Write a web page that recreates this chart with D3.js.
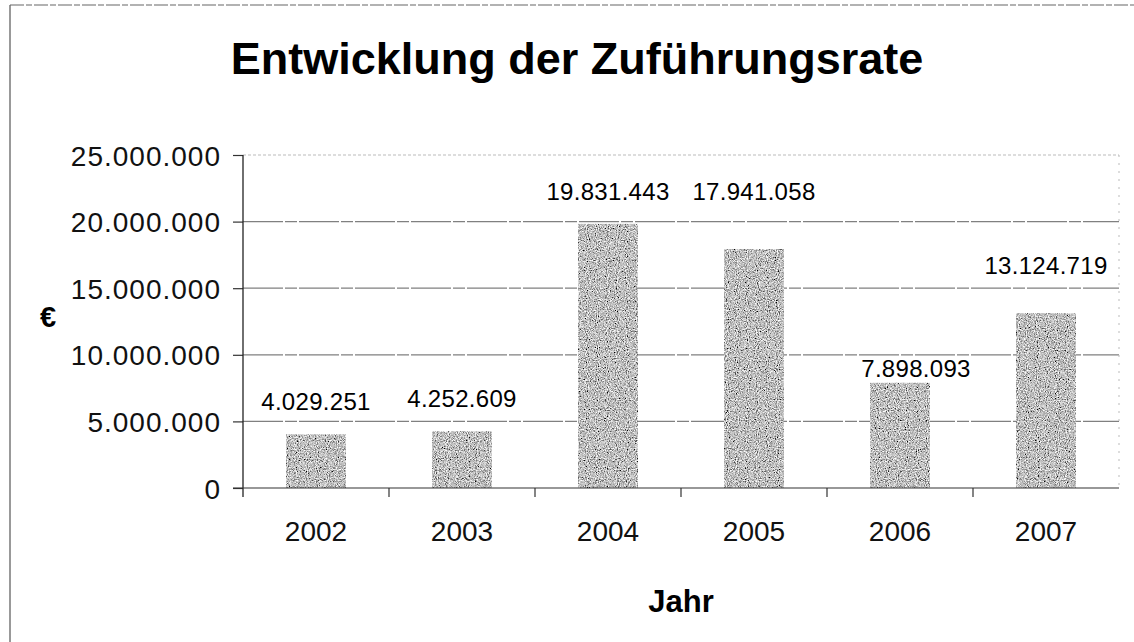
<!DOCTYPE html>
<html>
<head>
<meta charset="utf-8">
<script src="https://cdn.jsdelivr.net/npm/d3@7"></script>
<style>
  body { margin: 0; background: #fff; }
  svg { font-family: "Liberation Sans", Arial, sans-serif; }
</style>
</head>
<body>
<svg id="chart"></svg>
<script>
// data
var years = ["2002", "2003", "2004", "2005", "2006", "2007"];
var values = [4029251, 4252609, 19831443, 17941058, 7898093, 13124719];
var yTicks = [0, 5000000, 10000000, 15000000, 20000000, 25000000];

// label placement as in the original (px above the bar, px sideways)
var labelGap = [24, 24, 24, 49, 6, 39];
var labelShift = [0, 0, 0, 0, 16, 0];

var W = 1134, H = 642,
	margin = {top: 155, right: 15, bottom: 154, left: 243},
	width = 1119 - margin.left,
	height = 488 - margin.top;

var fmt = function(v) { return d3.format(",")(v).replace(/,/g, "."); };

var svg = d3.select("#chart").attr("width", W).attr("height", H);

var defs = svg.append("defs");
var f = defs.append("filter").attr("id", "grain")
	.attr("x", 0).attr("y", 0).attr("width", 1).attr("height", 1);
f.append("feTurbulence").attr("type", "fractalNoise")
	.attr("baseFrequency", 0.9).attr("numOctaves", 2).attr("seed", 3).attr("result", "n");
f.append("feColorMatrix").attr("in", "n").attr("type", "matrix")
	.attr("values", "1.8 0 0 0 -0.38  1.8 0 0 0 -0.38  1.8 0 0 0 -0.38  0 0 0 0 1")
	.attr("result", "g");
f.append("feComposite").attr("in", "g").attr("in2", "SourceGraphic").attr("operator", "in");

// outer frame (left and top only visible)
svg.append("line").attr("x1", 10).attr("x2", 10).attr("y1", 5).attr("y2", H)
	.attr("stroke", "#555").attr("stroke-width", 1.2);
svg.append("line").attr("x1", 10).attr("x2", W).attr("y1", 5).attr("y2", 5)
	.attr("stroke", "#666").attr("stroke-width", 1.2).attr("stroke-dasharray", "14 2 6 2");

svg.append("text")
	.attr("x", 577).attr("y", 74)
	.attr("text-anchor", "middle")
	.style("font-size", "45px").style("font-weight", "bold")
	.text("Entwicklung der Zuführungsrate");

var g = svg.append("g").attr("transform", "translate(" + margin.left + "," + margin.top + ")");

var x = d3.scaleBand().domain(years).range([0, width]).paddingInner(0.59).paddingOuter(0.295);
var xCat = d3.scaleBand().domain(years).range([0, width]);
var y = d3.scaleLinear().domain([0, 25000000]).range([height, 0]);

// gridlines
g.selectAll(".grid").data(yTicks.filter(function(d) { return d > 0; }))
	.enter().append("line")
	.attr("x1", 0).attr("x2", width)
	.attr("y1", function(d) { return y(d); }).attr("y2", function(d) { return y(d); })
	.attr("stroke", function(d) { return d === 25000000 ? "#bbb" : "#808080"; })
	.attr("stroke-width", 1.2)
	.attr("stroke-dasharray", function(d) { return d === 25000000 ? "3 2" : "40 2 12 2"; });

// right border of plot area
g.append("line").attr("x1", width).attr("x2", width).attr("y1", 0).attr("y2", height)
	.attr("stroke", "#bbb").attr("stroke-dasharray", "2 6");

// bars
g.selectAll(".bar").data(values).enter().append("rect")
	.attr("x", function(d, i) { return x(years[i]); })
	.attr("y", function(d) { return y(d); })
	.attr("width", x.bandwidth())
	.attr("height", function(d) { return height - y(d); })
	.attr("fill", "#8c8c8c")
	.attr("filter", "url(#grain)");

// value labels
g.selectAll(".lbl").data(values).enter().append("text")
	.attr("x", function(d, i) { return x(years[i]) + x.bandwidth() / 2 + labelShift[i]; })
	.attr("y", function(d, i) { return y(d) - labelGap[i]; })
	.attr("text-anchor", "middle")
	.style("font-size", "24px").style("letter-spacing", "0.3px")
	.text(function(d) { return fmt(d); });

// y axis
var yAxis = d3.axisLeft(y).tickValues(yTicks).tickSize(10).tickPadding(12)
	.tickFormat(fmt);
var ya = g.append("g").call(yAxis);
ya.select(".domain").remove();
ya.selectAll("text").style("font-size", "28px").style("letter-spacing", "1px")
	.attr("fill", "#111").attr("dy", "0.36em");
ya.selectAll("line").attr("stroke", "#333").attr("stroke-width", 1.2);
g.append("line").attr("x1", 0).attr("x2", 0).attr("y1", 0).attr("y2", height + 9)
	.attr("stroke", "#222").attr("stroke-width", 1.3);

// x axis
g.append("line").attr("x1", -10).attr("x2", width).attr("y1", height).attr("y2", height)
	.attr("stroke", "#333").attr("stroke-width", 1.2);
g.selectAll(".xt").data(years.slice(1)).enter().append("line")
	.attr("x1", function(d) { return xCat(d); }).attr("x2", function(d) { return xCat(d); })
	.attr("y1", height).attr("y2", height + 9)
	.attr("stroke", "#333").attr("stroke-width", 1.2);
g.selectAll(".xl").data(years).enter().append("text")
	.attr("x", function(d) { return xCat(d) + xCat.bandwidth() / 2; })
	.attr("y", height + 53)
	.attr("text-anchor", "middle")
	.style("font-size", "28px").attr("fill", "#111")
	.text(function(d) { return d; });

// axis titles
svg.append("text").attr("x", margin.left + width / 2).attr("y", 612)
	.attr("text-anchor", "middle")
	.style("font-size", "31px").style("font-weight", "bold")
	.text("Jahr");
svg.append("text").attr("x", 48).attr("y", 327)
	.attr("text-anchor", "middle")
	.style("font-size", "29px").style("font-weight", "bold")
	.text("€");
</script>
</body>
</html>
